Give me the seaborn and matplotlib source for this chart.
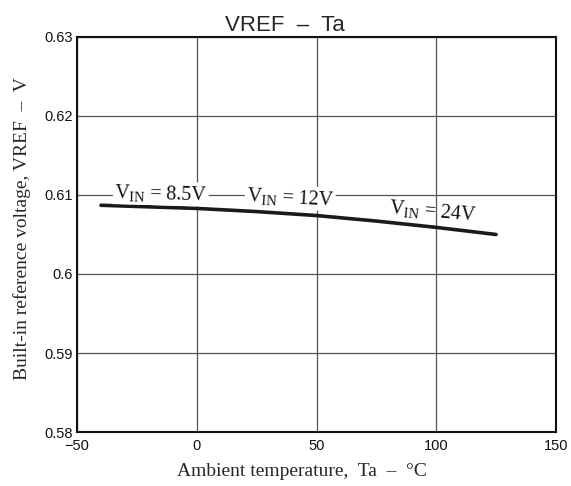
import matplotlib
matplotlib.use("Agg")
import matplotlib.pyplot as plt
import seaborn as sns
import pandas as pd

temperature = [-40, -20, 0, 25, 50, 75, 100, 125]
vref = [0.6087, 0.6085, 0.6083, 0.6079, 0.6074, 0.6067, 0.6059, 0.6050]
x_ticks = [-50, 0, 50, 100, 150]
y_ticks = [0.58, 0.59, 0.6, 0.61, 0.62, 0.63]
y_tick_labels = ["0.58", "0.59", "0.6", "0.61", "0.62", "0.63"]
x_tick_labels = ["\u221250", "0", "50", "100", "150"]
labels = [r"$\mathregular{V_{IN}}$ = 8.5V", r"$\mathregular{V_{IN}}$ = 12V", r"$\mathregular{V_{IN}}$ = 24V"]
label_x = [-15, 39, 98.5]
label_y = [0.6102, 0.6097, 0.6079]
label_rot = [-1.5, -3, -5]

sns.set_style("white")
plt.rcParams["mathtext.fontset"] = "stix"

df = pd.DataFrame({"Ta": temperature, "VREF": vref})

fig = plt.figure(figsize=(5.71, 4.86), dpi=100)
ax = fig.add_axes([0.1349, 0.1111, 0.8388, 0.8128])
sns.lineplot(data=df, x="Ta", y="VREF", ax=ax, color="#1a1a1a", linewidth=2.6)

ax.set_xlim(-50, 150)
ax.set_ylim(0.58, 0.63)
ax.set_xticks(x_ticks)
ax.set_xticklabels(x_tick_labels)
ax.set_yticks(y_ticks)
ax.set_yticklabels(y_tick_labels)
ax.grid(True, color="#555555", linewidth=0.9)
ax.set_axisbelow(True)
for s in ax.spines.values():
    s.set_color("#111111")
    s.set_linewidth(1.5)
ax.tick_params(length=0, labelsize=10.5, colors="#111111")
ax.tick_params(axis="y", pad=3)
ax.tick_params(axis="x", pad=5)
for t in ax.get_xticklabels() + ax.get_yticklabels():
    t.set_fontfamily("Liberation Sans")

ax.set_title("VREF  \u2013  Ta", fontsize=16, fontfamily="Liberation Sans",
             pad=4, x=0.434)
ax.set_xlabel("Ambient temperature,  Ta  \u2013  \u00b0C", fontsize=14,
              fontfamily="Liberation Serif")
ax.xaxis.set_label_coords(0.47, -0.078, transform=ax.transAxes)
ax.xaxis.label.set_va("top")
ax.set_ylabel("Built-in reference voltage, VREF  \u2013  V", fontsize=14,
              fontfamily="Liberation Serif")
ax.yaxis.set_label_coords(-0.097, 0.516, transform=ax.transAxes)

for i, (txt, x, y, r) in enumerate(zip(labels, label_x, label_y, label_rot)):
    kw = {}
    if i < 2:
        kw["bbox"] = dict(facecolor="white", edgecolor="none", pad=1.0)
    ax.text(x, y, txt, fontsize=14.5, fontfamily="Liberation Serif",
            ha="center", va="center", rotation=r, color="#111111", **kw)

fig.savefig("out.png", dpi=100)
